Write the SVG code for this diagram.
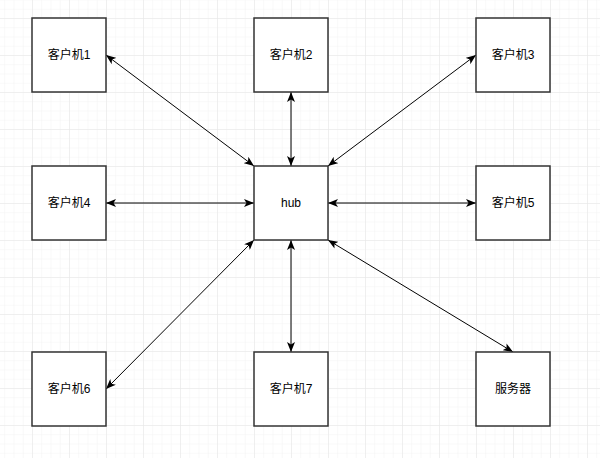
<svg xmlns="http://www.w3.org/2000/svg" width="600" height="458" viewBox="0 0 600 458">
  <defs>
    <pattern id="minor" x="32" y="18" width="9.25" height="9.25" patternUnits="userSpaceOnUse">
      <path d="M 0 0 L 9.25 0 M 0 0 L 0 9.25" fill="none" stroke="#f3f3f3" stroke-width="1"/>
    </pattern>
    <pattern id="major" x="32" y="18" width="37" height="37" patternUnits="userSpaceOnUse">
      <path d="M 0 0 L 37 0 M 0 0 L 0 37" fill="none" stroke="#e6e6e6" stroke-width="1"/>
    </pattern>
    <marker id="arr" viewBox="0 0 10 8" refX="10" refY="4" markerWidth="10" markerHeight="8" markerUnits="userSpaceOnUse" orient="auto-start-reverse">
      <path d="M 0 0 L 10 4 L 0 8 L 2.5 4 Z" fill="#000"/>
    </marker>
  </defs>
  <style>
    .box { fill: #fff; stroke: #333; stroke-width: 1.5; }
    .lbl { font-family: "Liberation Sans", "Noto Sans CJK SC", sans-serif; font-size: 12px; fill: #000; text-anchor: middle; dominant-baseline: central; }
    .edge { stroke: #000; stroke-width: 1; fill: none; marker-start: url(#arr); marker-end: url(#arr); }
  </style>
  <rect width="600" height="458" fill="#fff"/>
  <rect width="600" height="458" fill="url(#minor)"/>
  <rect width="600" height="458" fill="url(#major)"/>

  <g id="connectors">
    <line class="edge" x1="106" y1="55" x2="254" y2="166"/>
    <line class="edge" x1="291" y1="92" x2="291" y2="166"/>
    <line class="edge" x1="476" y1="55" x2="328" y2="166"/>
    <line class="edge" x1="106" y1="203" x2="254" y2="203"/>
    <line class="edge" x1="476" y1="203" x2="328" y2="203"/>
    <line class="edge" x1="106" y1="389" x2="254" y2="240"/>
    <line class="edge" x1="291" y1="352" x2="291" y2="240"/>
    <line class="edge" x1="513" y1="352" x2="328" y2="240"/>
  </g>

  <g id="client1"><rect class="box" x="32" y="18" width="74" height="74"/><text class="lbl" x="69" y="55">客户机1</text></g>
  <g id="client2"><rect class="box" x="254" y="18" width="74" height="74"/><text class="lbl" x="291" y="55">客户机2</text></g>
  <g id="client3"><rect class="box" x="476" y="18" width="74" height="74"/><text class="lbl" x="513" y="55">客户机3</text></g>
  <g id="client4"><rect class="box" x="32" y="166" width="74" height="74"/><text class="lbl" x="69" y="203">客户机4</text></g>
  <g id="hub"><rect class="box" x="254" y="166" width="74" height="74"/><text class="lbl" x="291" y="203">hub</text></g>
  <g id="client5"><rect class="box" x="476" y="166" width="74" height="74"/><text class="lbl" x="513" y="203">客户机5</text></g>
  <g id="client6"><rect class="box" x="32" y="352" width="74" height="74"/><text class="lbl" x="69" y="389">客户机6</text></g>
  <g id="client7"><rect class="box" x="254" y="352" width="74" height="74"/><text class="lbl" x="291" y="389">客户机7</text></g>
  <g id="server"><rect class="box" x="476" y="352" width="74" height="74"/><text class="lbl" x="513" y="389">服务器</text></g>
</svg>
